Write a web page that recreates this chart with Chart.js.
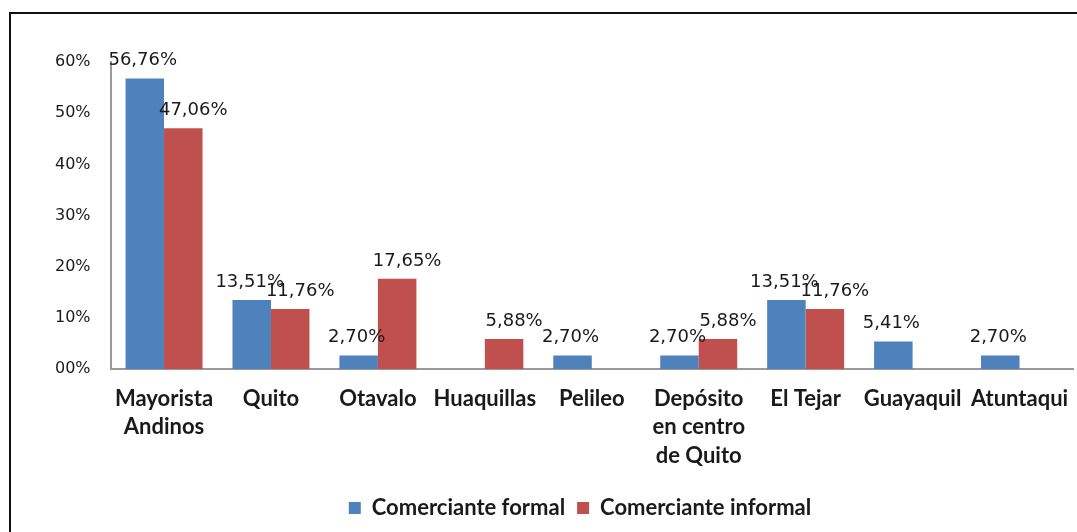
<!DOCTYPE html>
<html>
<head>
<meta charset="utf-8">
<script src="https://cdn.jsdelivr.net/npm/chart.js@4"></script>
<style>
    html, body { margin: 0; padding: 0; background: #fff; overflow: hidden; }
    #wrap { position: relative; width: 1077px; height: 532px; }
    #frame {
        position: absolute; left: 9px; top: 12px;
        width: 1200px; height: 600px;
        border: 2px solid #111; box-sizing: border-box;
    }
    canvas { position: absolute; left: 0; top: 0; }
</style>
</head>
<body>
<div id="wrap">
    <div id="frame"></div>
    <canvas id="chart" width="1077" height="532"></canvas>
</div>
<script>
const categories = [
    ['Mayorista', 'Andinos'], 'Quito', 'Otavalo', 'Huaquillas', 'Pelileo',
    ['Depósito', 'en centro', 'de Quito'], 'El Tejar', 'Guayaquil', 'Atuntaqui'
];
const formal = [56.76, 13.51, 2.70, null, 2.70, 2.70, 13.51, 5.41, 2.70];
const informal = [47.06, 11.76, 17.65, 5.88, null, 5.88, 11.76, null, null];
const yTicks = [0, 10, 20, 30, 40, 50, 60];

const labelFont = '18px "DejaVu Sans", sans-serif';
const boldFamily = 'Lato, "Liberation Sans", sans-serif';

// data labels above each bar, Excel style
const barLabels = {
    id: 'barLabels',
    afterLayout(chart) {
        // legend sits a bit right of centre in the original
        chart.legend.left += 26;
        chart.legend.right += 26;
    },
    afterDatasetsDraw(chart) {
        const c = chart.ctx;
        c.save();
        c.font = labelFont;
        c.fillStyle = '#1a1a1a';
        c.textAlign = 'center';
        c.textBaseline = 'middle';
        chart.data.datasets.forEach((ds, i) => {
            const meta = chart.getDatasetMeta(i);
            const dx = i === 0 ? -2 : 10;
            meta.data.forEach((bar, j) => {
                const v = ds.data[j];
                if (v === null || v === undefined) return;
                c.fillText(v.toFixed(2).replace('.', ',') + '%', bar.x + dx, bar.y - 18);
            });
        });
        c.restore();
    }
};

new Chart(document.getElementById('chart'), {
    type: 'bar',
    data: {
        labels: categories,
        datasets: [
            { label: 'Comerciante formal', data: formal, backgroundColor: '#4F81BD' },
            { label: 'Comerciante informal', data: informal, backgroundColor: '#C0504D' }
        ]
    },
    options: {
        responsive: false,
        animation: false,
        categoryPercentage: 0.72,
        barPercentage: 1,
        layout: { padding: { left: 35, right: 4, top: 62, bottom: 3 } },
        scales: {
            x: {
                grid: { display: false, drawTicks: false },
                border: { color: '#999', width: 2 },
                afterFit: (scale) => { scale.paddingRight = 0; },
                ticks: {
                    color: '#1a1a1a',
                    font: { family: boldFamily, size: 22, weight: 'bold', lineHeight: 1.3 },
                    padding: 15,
                    maxRotation: 0,
                    autoSkip: false
                }
            },
            y: {
                min: 0,
                max: 60,
                afterBuildTicks: (axis) => { axis.ticks = yTicks.map(v => ({ value: v })); },
                grid: { display: false, drawTicks: false },
                border: { color: '#999', width: 2 },
                ticks: {
                    color: '#1a1a1a',
                    font: { family: '"DejaVu Sans", sans-serif', size: 16 },
                    padding: 20,
                    callback: (v) => String(v).padStart(2, '0') + '%'
                }
            }
        },
        plugins: {
            legend: {
                position: 'bottom',
                labels: {
                    boxWidth: 12,
                    boxHeight: 12,
                    padding: 12,
                    color: '#1a1a1a',
                    font: { family: boldFamily, size: 22, weight: 'bold' }
                }
            },
            tooltip: { enabled: false }
        }
    },
    plugins: [barLabels]
});
</script>
</body>
</html>
